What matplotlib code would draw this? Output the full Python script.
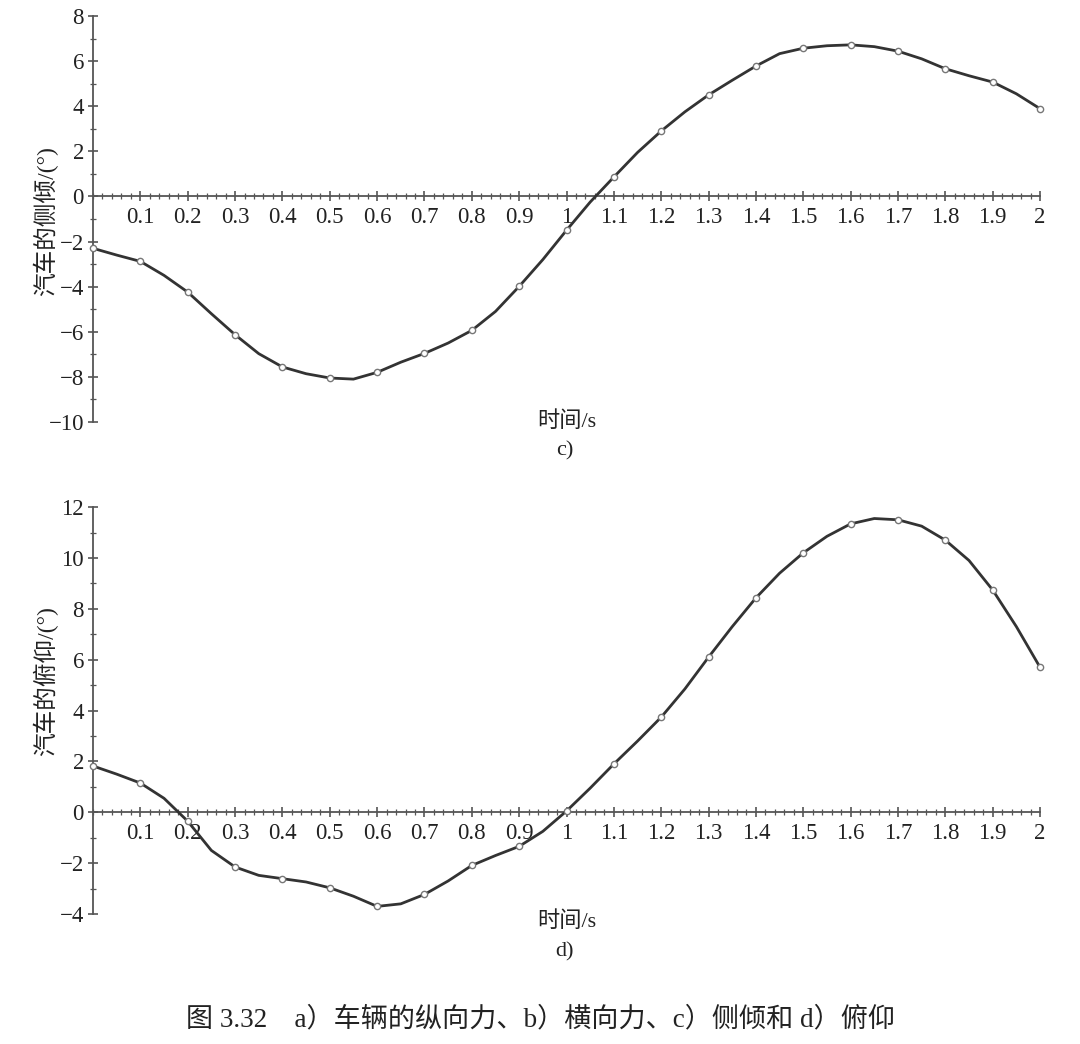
import matplotlib
matplotlib.use("Agg")
import matplotlib.pyplot as plt
from matplotlib.ticker import MultipleLocator
import numpy as np

plt.rcParams['font.family'] = ['Liberation Serif', 'Noto Sans CJK SC', 'DejaVu Sans']
plt.rcParams['axes.unicode_minus'] = True

# time samples (curve read every 0.05 s, markers every 0.1 s)
t = np.round(np.arange(0, 2.0001, 0.05), 2)

# c) roll angle (deg)
roll = [-2.3, -2.6, -2.88, -3.5, -4.24, -5.2, -6.13, -6.97, -7.56, -7.86,
        -8.05, -8.1, -7.8, -7.35, -6.96, -6.5, -5.94, -5.1, -3.99, -2.8,
        -1.5, -0.25, 0.86, 1.95, 2.9, 3.75, 4.5, 5.15, 5.78, 6.33,
        6.57, 6.68, 6.72, 6.64, 6.44, 6.1, 5.66, 5.35, 5.07, 4.55, 3.89]

# d) pitch angle (deg)
pitch = [1.82, 1.5, 1.15, 0.55, -0.35, -1.5, -2.15, -2.48, -2.61, -2.74,
         -2.97, -3.3, -3.7, -3.6, -3.23, -2.7, -2.09, -1.7, -1.34, -0.75,
         0.05, 0.95, 1.9, 2.8, 3.74, 4.85, 6.1, 7.3, 8.43, 9.4,
         10.2, 10.85, 11.34, 11.55, 11.5, 11.25, 10.7, 9.9, 8.74, 7.3, 5.7]

xticks = [0.1, 0.2, 0.3, 0.4, 0.5, 0.6, 0.7, 0.8, 0.9, 1.0,
          1.1, 1.2, 1.3, 1.4, 1.5, 1.6, 1.7, 1.8, 1.9, 2.0]
xticklabels = ["0.1", "0.2", "0.3", "0.4", "0.5", "0.6", "0.7", "0.8", "0.9", "1",
               "1.1", "1.2", "1.3", "1.4", "1.5", "1.6", "1.7", "1.8", "1.9", "2"]

H = 1044.0  # figure height in px, used to place the free texts

panels = [
    # (values, ylim, yticks, ylabel, ylabel centre px, letter, xlabel px, letter px, axes rect)
    (roll, (-10, 8), np.arange(-10, 9, 2), "汽车的侧倾/(°)", 221, "c)", 422, 451,
     [0.0861, 0.5958, 0.8769, 0.3889]),
    (pitch, (-4, 12), np.arange(-4, 13, 2), "汽车的俯仰/(°)", 681, "d)", 922, 952,
     [0.0861, 0.1245, 0.8769, 0.3898]),
]

fig = plt.figure(figsize=(10.8, 10.44), dpi=100)

for vals, ylim, yticks, ylabel, ylab_y, letter, xlab_y, let_y, rect in panels:
    ax = fig.add_axes(rect)
    vals = np.array(vals)
    ax.plot(t, vals, color="#333333", linewidth=2.0, solid_joinstyle="round", zorder=3)
    # markers every 0.1 s
    ax.plot(t[::2], vals[::2], linestyle="none", marker="o", markersize=4.5,
            markerfacecolor="white", markeredgecolor="#777777",
            markeredgewidth=1.0, zorder=4, clip_on=False)

    ax.set_xlim(0, 2.0)
    ax.set_ylim(*ylim)

    # axes crossing at the origin
    ax.spines['left'].set_position(('data', 0))
    ax.spines['bottom'].set_position(('data', 0))
    ax.spines['top'].set_visible(False)
    ax.spines['right'].set_visible(False)
    for s in ('left', 'bottom'):
        ax.spines[s].set_color("#555555")
        ax.spines[s].set_linewidth(1.3)

    ax.set_xticks(xticks)
    ax.set_xticklabels(xticklabels)
    ax.xaxis.set_minor_locator(MultipleLocator(0.02))
    ax.set_yticks(yticks)
    ax.yaxis.set_minor_locator(MultipleLocator(1))

    ax.tick_params(axis='both', which='major', direction='inout', length=7,
                   width=1.2, color="#555555", labelsize=16.5, labelcolor="#222222")
    ax.tick_params(axis='both', which='minor', direction='inout', length=4,
                   width=0.9, color="#555555")
    ax.tick_params(axis='x', which='major', pad=4)
    ax.tick_params(axis='y', which='major', pad=3)

    ax.set_facecolor("none")

    fig.text(567 / 1080, 1 - xlab_y / H, "时间/s", ha="center", va="center",
             fontsize=16, color="#222222")
    fig.text(565 / 1080, 1 - let_y / H, letter, ha="center", va="center",
             fontsize=16, color="#222222")
    fig.text(45 / 1080, 1 - ylab_y / H, ylabel, rotation=90, ha="center",
             va="center", fontsize=17, color="#222222")

fig.text(0.5, 1 - 1020 / H, "图 3.32　a）车辆的纵向力、b）横向力、c）侧倾和 d）俯仰",
         ha="center", va="center", fontsize=19.5, color="#222222")

fig.savefig("out.png", dpi=100, facecolor="white")
